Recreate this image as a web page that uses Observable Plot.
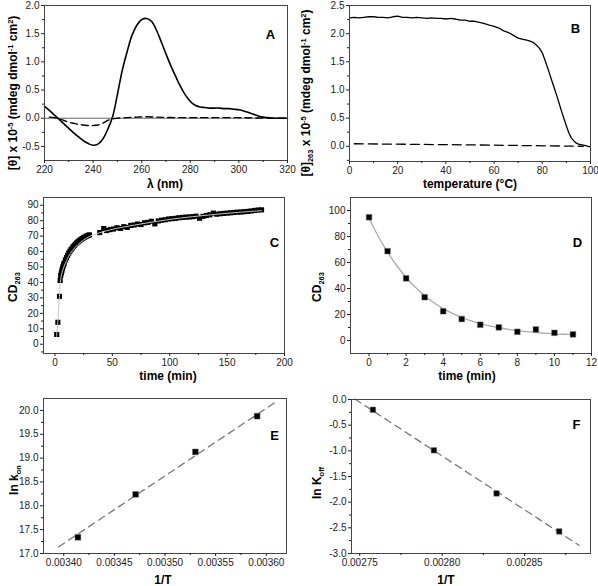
<!DOCTYPE html>
<html><head><meta charset="utf-8">
<script src="https://cdn.jsdelivr.net/npm/d3@7"></script>
<script src="https://cdn.jsdelivr.net/npm/@observablehq/plot@0.6"></script>
<style>
body{margin:0;background:#fff;}
#wrap{position:relative;width:598px;height:586px;overflow:hidden;font-family:"Liberation Sans",Arial,sans-serif;}
.p{position:absolute;}
.lab{position:absolute;font-weight:bold;font-size:12px;white-space:nowrap;transform:translate(-50%,-50%);color:#000;line-height:1;}
.lab.rot{transform:translate(-50%,-50%) rotate(-90deg);}
.lab sup{font-size:0.62em;vertical-align:0.6em;line-height:0;}
.lab sub{font-size:0.62em;vertical-align:-0.35em;line-height:0;}
</style></head><body><div id="wrap"></div>
<script>
// ---------- Panel A: CD spectra ----------
const aLambda = [220,222,224,226,228,230,232,234,236,238,240,242,244,246,248,250,252,254,256,258,260,262,264,266,268,270,272,274,276,278,280,282,284,286,288,290,292,294,296,298,300,302,304,306,308,310,312,314,316,318,320];
const aSolid  = [0.21,0.14,0.06,-0.02,-0.10,-0.18,-0.26,-0.33,-0.40,-0.45,-0.48,-0.46,-0.37,-0.20,0.02,0.42,0.85,1.18,1.47,1.65,1.75,1.77,1.72,1.57,1.36,1.14,0.93,0.74,0.56,0.41,0.30,0.23,0.20,0.19,0.18,0.18,0.18,0.17,0.17,0.16,0.15,0.13,0.10,0.07,0.04,0.02,0.01,0.0,0.0,0.0,0.0];
const aDashL  = [222,224,226,228,230,232,234,236,238,240,242,244,246,248,250,254,258,262,266,272,280,290,300,306,312,320];
const aDashV  = [0.02,0.01,-0.01,-0.04,-0.07,-0.09,-0.11,-0.12,-0.13,-0.13,-0.12,-0.09,-0.04,-0.01,0.0,0.01,0.02,0.025,0.02,0.012,0.01,0.01,0.01,0.006,0.002,0.0];
const aXTicks = [220,240,260,280,300,320], aXMinor = [230,250,270,290,310];
const aYTicks = [-0.5,0,0.5,1.0,1.5,2.0], aYMinor = [-0.25,0.25,0.75,1.25,1.75];

// ---------- Panel B: melting curve ----------
const bTemp  = [0,2,4,6,8,10,12,14,16,18,20,22,24,26,28,30,32,34,36,38,40,42,44,46,48,50,52,54,56,58,60,62,64,66,68,70,72,74,76,78,79,80,81,82,83,84,85,86,87,88,89,90,91,92,93,94,95,96,97,98,99,100];
const bSolid = [2.28,2.29,2.28,2.29,2.30,2.30,2.29,2.29,2.28,2.30,2.31,2.29,2.29,2.28,2.29,2.28,2.27,2.28,2.27,2.27,2.26,2.27,2.26,2.24,2.24,2.22,2.22,2.20,2.18,2.15,2.13,2.10,2.05,2.02,1.97,1.92,1.90,1.88,1.85,1.78,1.73,1.66,1.54,1.42,1.29,1.16,1.03,0.90,0.76,0.62,0.49,0.36,0.24,0.15,0.10,0.06,0.04,0.03,0.02,0.01,0.0,-0.01];
const bDashT = [2,50,97], bDashV = [0.045,0.025,0.0];
const bXTicks = [0,20,40,60,80,100], bXMinor = [10,30,50,70,90];
const bYTicks = [0,0.5,1.0,1.5,2.0,2.5], bYMinor = [-0.25,0.25,0.75,1.25,1.75,2.25];

// ---------- Panel C: association kinetics ----------
const cTime = [1.5,2.5,3.9,4.5,5,5.5,6,6.5,7,7.5,8,9,10,11,12,13,14,15,16,17,18,19,20,21,22,23,24,25,26,27,28,29,30,39,42.5,45,48,51,54,57,60,63,66,69,72,75,78,81,84,87,90,93,96,99,102,105,108,111,114,117,120,123,126,129,132,135,138,141,144,147,150,153,156,159,162,165,168,171,174,177,180];
const cVal  = [6.3,14.2,31,41.3,44.5,46,47.5,49,50.3,51.5,52.5,54.5,56,57.5,59,60.2,61.3,62.3,63.3,64.1,64.9,65.6,66.3,66.9,67.5,68,68.5,69,69.4,69.8,70.2,70.5,70.8,72.3,74.9,73.6,74.2,74.6,75.4,75.0,76.1,75.6,76.9,77.2,77.8,77.5,78.6,78.9,79.6,77.9,79.8,80.3,80.6,81.1,81.3,81.5,81.9,82.1,82.3,82.4,82.6,82.9,81.6,82.8,83.4,83.8,84.9,84.2,84.5,84.7,84.9,85.1,85.3,85.5,85.6,85.8,86.0,86.3,86.6,86.9,87.0];
const cFitT = [1.3,2.4,3.9,4.5,5,6,8,10,12,15,20,25,30,35,40,50,60,80,100,120,140,160,180];
const cFitV = [5,14,31,38,42,46,50.5,54,57,60.5,64.5,67.5,69.8,71.2,72.4,74.4,75.9,78.5,80.8,82.6,84.1,85.4,86.5];
const cXTicks = [0,50,100,150,200], cXMinor = [25,75,125,175];
const cYTicks = [0,10,20,30,40,50,60,70,80,90], cYMinor = [-5,5,15,25,35,45,55,65,75,85];

// ---------- Panel D: dissociation kinetics ----------
const dTime = [0,1,2,3,4,5,6,7,8,9,10,11];
const dVal  = [94.8,68.7,47.8,33.3,22.5,16.5,12.1,10.1,6.7,8.5,5.9,4.7];
const dFitT = [0,0.5,1,1.5,2,2.5,3,3.5,4,4.5,5,5.5,6,6.5,7,7.5,8,8.5,9,9.5,10,10.5,11];
const dFitV = [94,80,68,57.5,48.5,41,34.5,29,24.5,20.8,17.7,15.1,13,11.2,9.8,8.6,7.6,6.8,6.1,5.6,5.1,4.8,4.5];
const dXTicks = [0,2,4,6,8,10,12], dXMinor = [1,3,5,7,9,11];
const dYTicks = [0,20,40,60,80,100], dYMinor = [10,30,50,70,90];

// ---------- Panel E: ln kon vs 1/T ----------
const eInvT = [0.003414,0.003471,0.003530,0.003591];
const eLnK  = [17.34,18.24,19.13,19.88];
const eFitX = [0.003395,0.003611], eFitY = [17.14,20.20];
const eXTicks = [0.00340,0.00345,0.00350,0.00355,0.00360], eXMinor = [0.003425,0.003475,0.003525,0.003575];
const eYTicks = [17.0,17.5,18.0,18.5,19.0,19.5,20.0], eYMinor = [17.25,17.75,18.25,18.75,19.25,19.75];

// ---------- Panel F: ln Koff vs 1/T ----------
const fInvT = [0.002758,0.002795,0.002833,0.002871];
const fLnK  = [-0.20,-0.99,-1.83,-2.57];
const fFitX = [0.002747,0.002883], fFitY = [0.01,-2.84];
const fXTicks = [0.00275,0.00280,0.00285], fXMinor = [0.002775,0.002825,0.002875];
const fYTicks = [0,-0.5,-1.0,-1.5,-2.0,-2.5,-3.0], fYMinor = [-0.25,-0.75,-1.25,-1.75,-2.25,-2.75];

const zip = (xs, ys) => xs.map((x, i) => ({x, y: ys[i]}));
const font = '"Liberation Sans", Arial, sans-serif';
const wrap = document.getElementById("wrap");

function panel(o) {
  const [mt, mr, mb, ml] = o.margins;
  const chart = Plot.plot({
    width: o.width, height: o.height,
    marginTop: mt, marginRight: mr, marginBottom: mb, marginLeft: ml,
    x: {domain: o.xDomain}, y: {domain: o.yDomain},
    style: {fontFamily: font, fontSize: "10px", color: "#222", background: "transparent", overflow: "visible"},
    marks: [
      ...o.marks,
      Plot.frame({stroke: "#444", strokeWidth: 1}),
      Plot.axisX(o.xTicks, {tickSize: 3, tickPadding: 2, tickFormat: o.xFmt, label: null}),
      Plot.axisX(o.xMinor, {tickSize: 2, tickFormat: () => "", label: null}),
      Plot.axisY(o.yTicks, {tickSize: 3, tickPadding: 2, tickFormat: o.yFmt, label: null}),
      Plot.axisY(o.yMinor, {tickSize: 2, tickFormat: () => "", label: null}),
      Plot.text([o.letter], {text: d => d, frameAnchor: "top-right", textAnchor: "middle", dx: o.ldx, dy: o.ldy, fontWeight: "bold", fontSize: 13, fill: "#000"})
    ]
  });
  const div = document.createElement("div");
  div.className = "p";
  div.style.left = o.left + "px";
  div.style.top = o.top + "px";
  div.appendChild(chart);
  wrap.appendChild(div);
}

function label(html, x, y, rot) {
  const d = document.createElement("div");
  d.className = "lab" + (rot ? " rot" : "");
  d.style.left = x + "px";
  d.style.top = y + "px";
  d.innerHTML = html;
  wrap.appendChild(d);
}

const f1 = d => d.toFixed(1), f5 = d => d.toFixed(5), f0 = d => String(d);

panel({left: 0, top: 0, width: 297, height: 195, margins: [5, 10, 35, 44],
  xDomain: [220, 320], yDomain: [-0.75, 2.0],
  xTicks: aXTicks, xMinor: aXMinor, yTicks: aYTicks, yMinor: aYMinor, xFmt: f0, yFmt: f1,
  letter: "A", ldx: -17, ldy: 24,
  marks: [
    Plot.ruleY([0], {stroke: "#666", strokeWidth: 1}),
    Plot.line(zip(aDashL, aDashV), {x: "x", y: "y", stroke: "#000", strokeWidth: 1.4, strokeDasharray: "7,4", curve: "catmull-rom"}),
    Plot.line(zip(aLambda, aSolid), {x: "x", y: "y", stroke: "#000", strokeWidth: 1.6, curve: "catmull-rom"})
  ]});

panel({left: 300, top: 0, width: 298, height: 195, margins: [5, 8, 34, 49],
  xDomain: [0, 100], yDomain: [-0.27, 2.5],
  xTicks: bXTicks, xMinor: bXMinor, yTicks: bYTicks, yMinor: bYMinor, xFmt: f0, yFmt: f1,
  letter: "B", ldx: -15, ldy: 18,
  marks: [
    Plot.line(zip(bDashT, bDashV), {x: "x", y: "y", stroke: "#000", strokeWidth: 1.3, strokeDasharray: "9,5"}),
    Plot.line(zip(bTemp, bSolid), {x: "x", y: "y", stroke: "#000", strokeWidth: 1.3})
  ]});

panel({left: 0, top: 195, width: 297, height: 195, margins: [2, 13, 37, 43],
  xDomain: [-10, 200], yDomain: [-6, 95],
  xTicks: cXTicks, xMinor: cXMinor, yTicks: cYTicks, yMinor: cYMinor, xFmt: f0, yFmt: f0,
  letter: "C", ldx: -10, ldy: 40,
  marks: [
    Plot.dot(zip(cTime, cVal), {x: "x", y: "y", symbol: "square", r: 2.9, fill: "#000"}),
    Plot.line(zip(cFitT, cFitV), {x: "x", y: "y", stroke: "#c4c4c4", strokeWidth: 1, curve: "catmull-rom"})
  ]});

panel({left: 300, top: 195, width: 298, height: 195, margins: [2, 7, 37, 50],
  xDomain: [-1, 12], yDomain: [-10, 110],
  xTicks: dXTicks, xMinor: dXMinor, yTicks: dYTicks, yMinor: dYMinor, xFmt: f0, yFmt: f0,
  letter: "D", ldx: -14, ldy: 40,
  marks: [
    Plot.line(zip(dFitT, dFitV), {x: "x", y: "y", stroke: "#aaa", strokeWidth: 1.3, curve: "catmull-rom"}),
    Plot.dot(zip(dTime, dVal), {x: "x", y: "y", symbol: "square", r: 3.2, fill: "#000", stroke: "#777", strokeWidth: 0.5})
  ]});

panel({left: 0, top: 390, width: 297, height: 196, margins: [8, 11, 33, 43],
  xDomain: [0.00338, 0.00362], yDomain: [17.0, 20.25],
  xTicks: eXTicks, xMinor: eXMinor, yTicks: eYTicks, yMinor: eYMinor, xFmt: f5, yFmt: f1,
  letter: "E", ldx: -12, ldy: 32,
  marks: [
    Plot.line(zip(eFitX, eFitY), {x: "x", y: "y", stroke: "#777", strokeWidth: 1.3, strokeDasharray: "7,5"}),
    Plot.dot(zip(eInvT, eLnK), {x: "x", y: "y", symbol: "square", r: 3.3, fill: "#000", stroke: "#777", strokeWidth: 0.5})
  ]});

panel({left: 300, top: 390, width: 298, height: 196, margins: [9, 8, 33, 51],
  xDomain: [0.002745, 0.00289], yDomain: [-3.0, 0.0],
  xTicks: fXTicks, xMinor: fXMinor, yTicks: fYTicks, yMinor: fYMinor, xFmt: f5, yFmt: f1,
  letter: "F", ldx: -14, ldy: 20,
  marks: [
    Plot.line(zip(fFitX, fFitY), {x: "x", y: "y", stroke: "#777", strokeWidth: 1.3, strokeDasharray: "7,5"}),
    Plot.dot(zip(fInvT, fLnK), {x: "x", y: "y", symbol: "square", r: 3.1, fill: "#000", stroke: "#777", strokeWidth: 0.5})
  ]});

// axis titles
label("λ (nm)", 165, 184);
label("[θ] x 10<sup>-5</sup> (mdeg dmol<sup>-1</sup> cm<sup>2</sup>)", 13, 93, true);
label("temperature (°C)", 470, 184);
label("[θ]<sub>263</sub> x 10<sup>-5</sup> (mdeg dmol<sup>-1</sup> cm<sup>2</sup>)", 306, 93, true);
label("time (min)", 168, 376);
label("CD<sub>263</sub>", 13, 287, true);
label("time (min)", 467, 376);
label("CD<sub>263</sub>", 317, 287, true);
label("1/T", 163, 580);
label("ln k<sub>on</sub>", 14, 480, true);
label("1/T", 446, 580);
label("ln K<sub>off</sub>", 317, 483, true);
</script></body></html>
